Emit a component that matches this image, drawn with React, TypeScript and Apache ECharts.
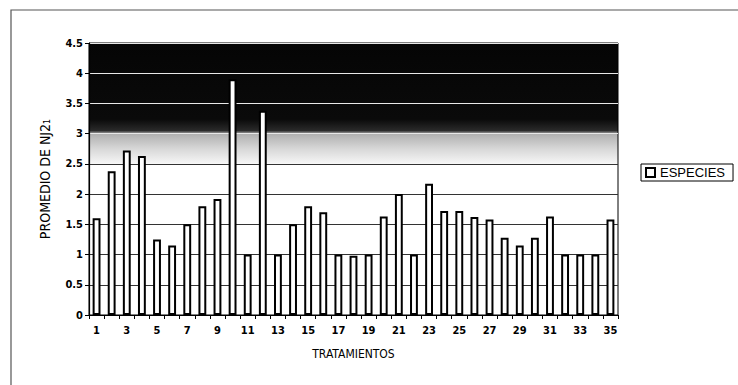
import React, { useEffect, useRef } from "react";
import * as echarts from "echarts";

const categories = Array.from({ length: 35 }, (_, i) => String(i + 1));
const especies = [
  1.6, 2.38, 2.72, 2.63, 1.25, 1.15, 1.5, 1.8, 1.92, 3.9,
  1.0, 3.38, 1.0, 1.5, 1.8, 1.7, 1.0, 0.98, 1.0, 1.63,
  2.0, 1.0, 2.17, 1.72, 1.72, 1.62, 1.58, 1.28, 1.15, 1.28,
  1.63, 1.0, 1.0, 1.0, 1.58,
];
const yTicks = [0, 0.5, 1, 1.5, 2, 2.5, 3, 3.5, 4, 4.5];

export default function App() {
  const ref = useRef<HTMLDivElement>(null);
  useEffect(() => {
    if (!ref.current) return;
    const chart = echarts.init(ref.current, null, { renderer: "svg" });
    const gridColors = yTicks.map((v) => (v >= 3 ? "#e8e8e8" : "#333333"));
    chart.setOption({
      animation: false,
      backgroundColor: "#ffffff",
      graphic: [
        {
          type: "rect",
          shape: { x: 11, y: 10, width: 760, height: 400 },
          style: { fill: "none", stroke: "#555", lineWidth: 1.2 },
          silent: true,
        },
      ],
      grid: {
        left: 89,
        right: 120,
        top: 43,
        bottom: 70,
        show: true,
        borderColor: "#000",
        borderWidth: 1,
        backgroundColor: {
          type: "linear",
          x: 0,
          y: 0,
          x2: 0,
          y2: 1,
          colorStops: [
            { offset: 0, color: "#050505" },
            { offset: 0.28, color: "#0a0a0a" },
            { offset: 0.322, color: "#2a2a2a" },
            { offset: 0.334, color: "#b0b0b0" },
            { offset: 0.39, color: "#d8d8d8" },
            { offset: 0.44, color: "#f4f4f4" },
            { offset: 0.45, color: "#ffffff" },
            { offset: 1, color: "#ffffff" },
          ],
        },
      },
      legend: {
        show: true,
        orient: "vertical",
        left: 641,
        top: 164,
        data: ["ESPECIES"],
        icon: "rect",
        itemWidth: 9,
        itemHeight: 9,
        itemGap: 4,
        padding: [2, 8, 2, 4],
        borderColor: "#000",
        borderWidth: 1,
        textStyle: { fontFamily: "Liberation Sans", fontSize: 13, color: "#000" },
      },
      xAxis: {
        type: "category",
        data: categories,
        name: "TRATAMIENTOS",
        nameLocation: "middle",
        nameGap: 33,
        nameTextStyle: { fontFamily: "DejaVu Sans Condensed", fontSize: 12, color: "#000" },
        axisLine: { lineStyle: { color: "#000", width: 1.2 } },
        axisTick: { show: true, alignWithLabel: false, interval: 0, length: 4, lineStyle: { color: "#000" } },
        axisLabel: {
          interval: 1,
          fontFamily: "DejaVu Sans Condensed",
          fontWeight: "bold",
          fontSize: 11,
          color: "#000",
          margin: 10,
        },
      },
      yAxis: {
        type: "value",
        min: 0,
        max: 4.5,
        interval: 0.5,
        name: "PROMEDIO DE NJ2₁",
        nameLocation: "middle",
        nameGap: 37,
        nameTextStyle: { fontFamily: "DejaVu Sans Condensed", fontSize: 14, color: "#000" },
        axisLine: { show: true, lineStyle: { color: "#000", width: 1.2 } },
        axisTick: { show: true, length: 4, lineStyle: { color: "#000" } },
        axisLabel: {
          fontFamily: "DejaVu Sans Condensed",
          fontWeight: "bold",
          fontSize: 11,
          color: "#000",
          margin: 6,
        },
        splitLine: { show: true, lineStyle: { color: gridColors, width: 1 } },
      },
      series: [
        {
          name: "ESPECIES",
          type: "bar",
          data: especies,
          barWidth: "52%",
          itemStyle: { color: "#ffffff", borderColor: "#000", borderWidth: 2 },
        },
      ],
    });
    return () => chart.dispose();
  }, []);
  return (
    <div
      ref={ref}
      style={{ position: "absolute", left: 0, top: 0, width: 738, height: 385 }}
    />
  );
}
